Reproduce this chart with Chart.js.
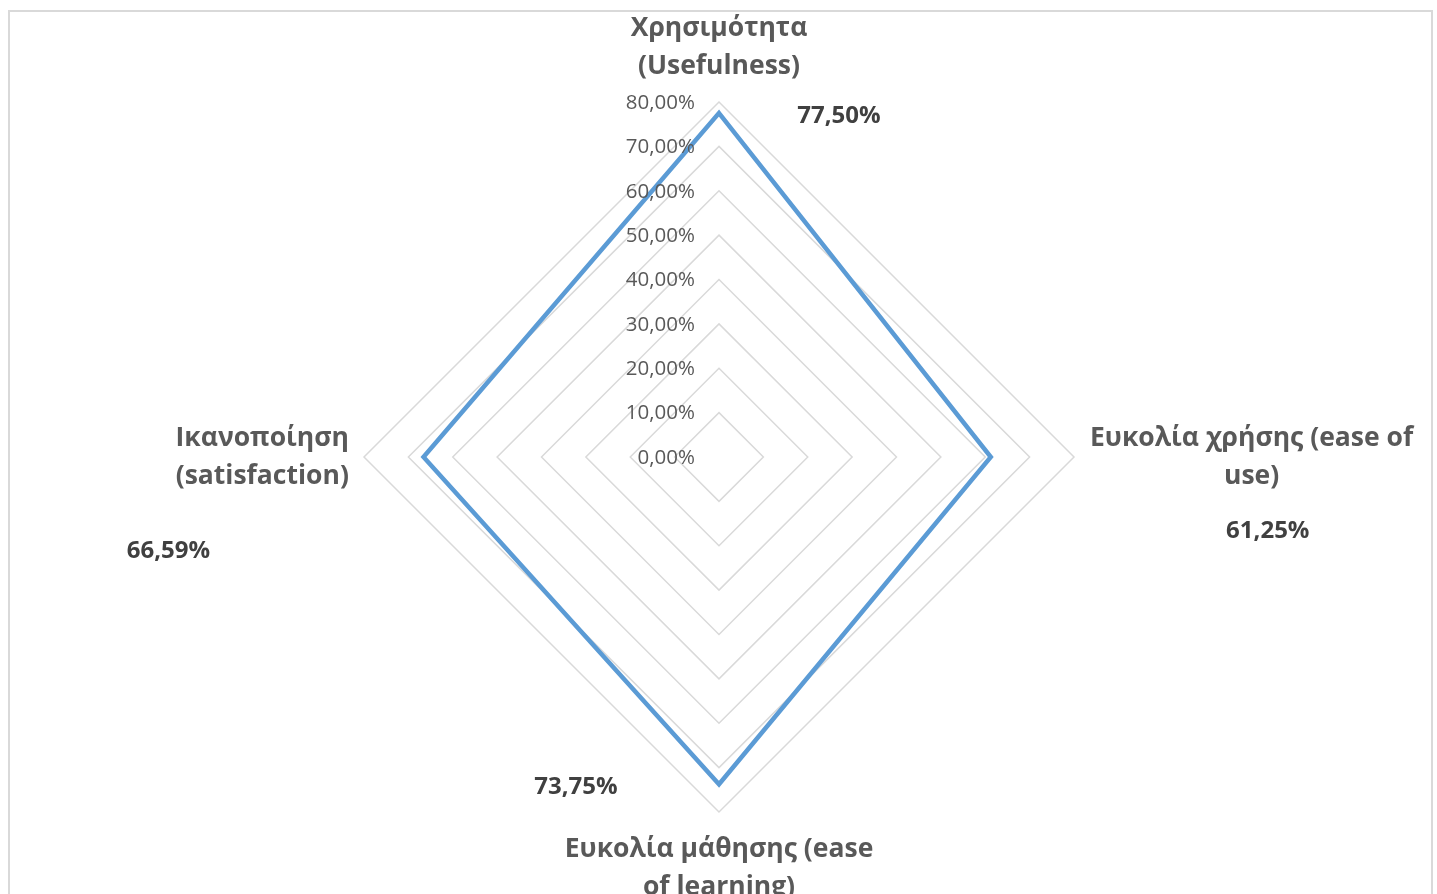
<!DOCTYPE html>
<html>
<head>
<meta charset="utf-8">
<script src="https://cdn.jsdelivr.net/npm/chart.js@4"></script>
<style>
  html, body { margin: 0; padding: 0; background: #fff; overflow: hidden; }
  #frame { position: absolute; left: 8px; top: 10px; width: 1421px; height: 900px; border: 2px solid #d9d9d9; }
  canvas { position: absolute; left: 0; top: 0; }
</style>
</head>
<body>
<div id="frame"></div>
<canvas id="radarChart" width="1437" height="894"></canvas>
<script>
// data
const categories = [
  ['Χρησιμότητα', '(Usefulness)'],
  ['Ευκολία χρήσης (ease of', 'use)'],
  ['Ευκολία μάθησης (ease', 'of learning)'],
  ['Ικανοποίηση', '(satisfaction)']
];
const scores = [0.775, 0.6125, 0.7375, 0.6659];
const tickValues = [0, 0.1, 0.2, 0.3, 0.4, 0.5, 0.6, 0.7, 0.8];

const FONT = "'Open Sans', sans-serif";
const pct = v => (v * 100).toFixed(2).replace('.', ',') + '%';

// where the value labels sit, relative to the data point
const valueOffsets = [[120, 3], [277, 74], [-143, 3], [-255, 94]];

const labelsPlugin = {
  id: 'excelLabels',
  afterDraw(chart) {
    const ctx = chart.ctx;
    const r = chart.scales.r;
    ctx.save();
    ctx.textBaseline = 'middle';

    // tick labels, right aligned left of the vertical axis
    ctx.font = '20.5px ' + FONT;
    ctx.fillStyle = '#595959';
    ctx.textAlign = 'right';
    tickValues.forEach(v => {
      const d = r.getDistanceFromCenterForValue(v);
      ctx.fillText(pct(v), r.xCenter - 24, r.yCenter - d + 1);
    });

    // category labels
    ctx.font = 'bold 26.5px ' + FONT;
    ctx.fillStyle = '#595959';
    ctx.textAlign = 'center';
    const lh = 38;
    categories.forEach((lines, i) => {
      const p = r.getPointPosition(i, r.drawingArea);
      const w = Math.max(...lines.map(l => ctx.measureText(l).width));
      let x = p.x, y0;
      if (i === 0) { y0 = p.y - 36 - lh * (lines.length - 1); }
      else if (i === 2) { y0 = p.y + 37; }
      else if (i === 1) { x = p.x + 16 + w / 2; y0 = p.y - lh / 2; }
      else { x = p.x - 15 - w / 2; y0 = p.y - lh / 2; }
      lines.forEach((l, k) => ctx.fillText(l, x, y0 + k * lh));
    });

    // value labels
    ctx.font = 'bold 24px ' + FONT;
    ctx.fillStyle = '#404040';
    scores.forEach((v, i) => {
      const p = r.getPointPosition(i, r.getDistanceFromCenterForValue(v));
      ctx.fillText(pct(v), p.x + valueOffsets[i][0], p.y + valueOffsets[i][1]);
    });
    ctx.restore();
  }
};

new Chart(document.getElementById('radarChart'), {
  type: 'radar',
  data: {
    labels: categories,
    datasets: [{
      data: scores,
      borderColor: '#5b9bd5',
      borderWidth: 4.5,
      borderJoinStyle: 'miter',
      backgroundColor: 'rgba(0,0,0,0)',
      fill: false,
      pointRadius: 0,
      pointHoverRadius: 0,
      tension: 0
    }]
  },
  options: {
    responsive: false,
    animation: false,
    layout: { padding: { left: 364, right: 363, top: 102, bottom: 82 } },
    plugins: { legend: { display: false }, tooltip: { enabled: false } },
    scales: {
      r: {
        min: 0,
        max: 0.8,
        ticks: { stepSize: 0.1, display: false },
        grid: { circular: false, color: '#d9d9d9', lineWidth: 1.5 },
        angleLines: { display: false },
        pointLabels: { display: false }
      }
    }
  },
  plugins: [labelsPlugin]
});
</script>
</body>
</html>
